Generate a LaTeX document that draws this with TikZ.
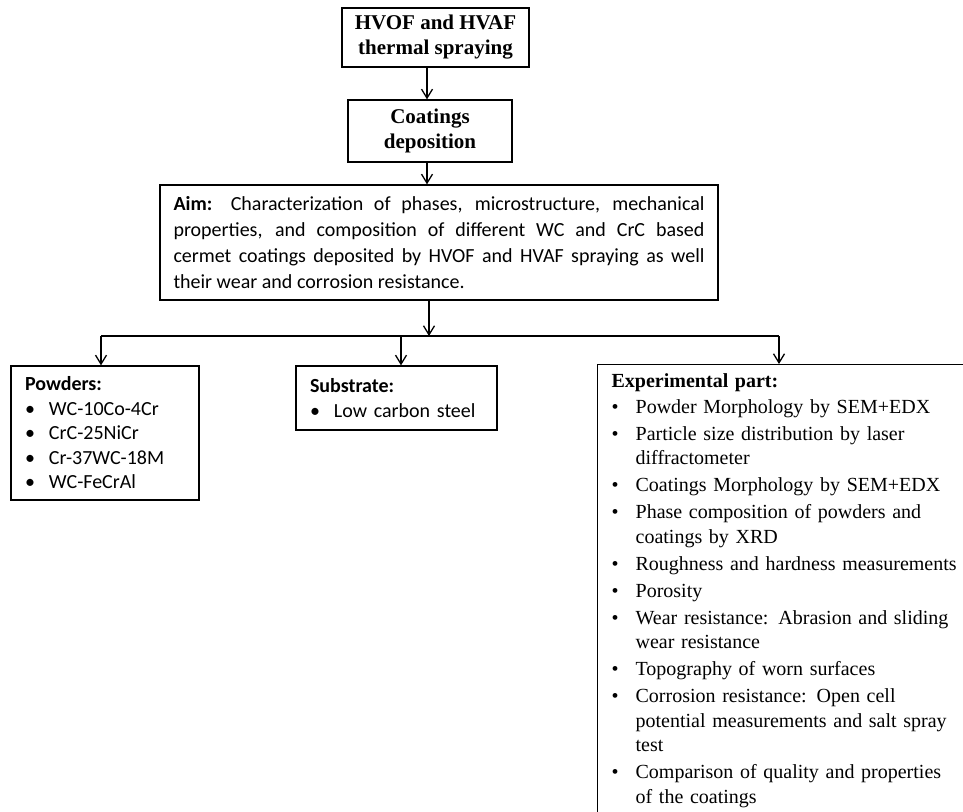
\documentclass[tikz,border=0pt]{standalone}
\usepackage{fontspec}
\setmainfont{Liberation Serif}
\newfontfamily\calibri{Carlito}
\usetikzlibrary{arrows.meta, positioning}

\newcommand{\bul}{\makebox[24pt][l]{\textbullet}}
\newcommand{\ind}{\hspace*{24pt}}

\begin{document}
\begin{tikzpicture}[
  x=1pt, y=-1pt,
  line width=1.3pt,
  stage/.style={draw, align=center, inner sep=0pt,
                font=\fontsize{21}{25}\selectfont\bfseries},
  info/.style={draw, align=left, inner xsep=14pt, inner ysep=0pt,
               font=\calibri\fontsize{20}{24.5}\selectfont},
  >={Straight Barb[length=9pt,width=11pt]}
]
\useasboundingbox (0,0) rectangle (963,811);
\clip (0,0) rectangle (963,811);

\node[stage, minimum width=187pt, minimum height=59pt] (spray) at (435.5,37.5)
  {HVOF and HVAF\\thermal spraying};
\node[stage, minimum width=164pt, minimum height=62pt] (depo) at (430,131)
  {Coatings\\deposition};

\node[info, align=justify, text width=531pt, inner xsep=13.5pt, minimum height=115pt,
      font=\calibri\fontsize{20}{26}\selectfont] (aim) at (439,242.5) {%
  \textbf{Aim:} Characterization of phases, microstructure, mechanical\linebreak
  properties, and composition of different WC and CrC based\linebreak
  cermet coatings deposited by HVOF and HVAF spraying as well\linebreak
  their wear and corrosion resistance.
};

\node[info, text width=160pt, minimum height=134pt] (pow) at (105,433) {%
  \textbf{Powders:}\\
  \bul WC-10Co-4Cr\\
  \bul CrC-25NiCr\\
  \bul Cr-37WC-18M\\
  \bul WC-FeCrAl
};

\node[info, text width=173pt, minimum height=64pt] (sub) at (396.5,398) {%
  \textbf{Substrate:}\\
  \bul Low carbon steel
};

\node[info, font=\fontsize{20}{24.5}\selectfont, text width=380pt,
      anchor=north west, inner ysep=9pt] (exp) at (597,364) {%
  \textbf{Experimental part:}\\[1pt]
  \bul Powder Morphology by SEM+EDX\\[2.5pt]
  \bul Particle size distribution by laser\\
  \ind diffractometer\\[2.5pt]
  \bul Coatings Morphology by SEM+EDX\\[2.5pt]
  \bul Phase composition of powders and\\
  \ind coatings by XRD\\[2.5pt]
  \bul Roughness and hardness measurements\\[2.5pt]
  \bul Porosity\\[2.5pt]
  \bul Wear resistance: Abrasion and sliding\\
  \ind wear resistance\\[2.5pt]
  \bul Topography of worn surfaces\\[2.5pt]
  \bul Corrosion resistance: Open cell\\
  \ind potential measurements and salt spray\\
  \ind test\\[2.5pt]
  \bul Comparison of quality and properties\\
  \ind of the coatings
};

% connectors
\coordinate (spine) at (427,0);
\coordinate (split) at (429,336);
\coordinate (busL) at (101,336);
\coordinate (busM) at (401,336);
\coordinate (busR) at (779,336);

\draw[->] (spray.south -| spine) -- (depo.north -| spine);
\draw[->] (depo.south -| spine) -- (aim.north -| spine);
\draw[->] (aim.south -| split) -- (split);
\draw (busL) -- (busR);
\draw[->] (busL) -- (busL |- pow.north);
\draw[->] (busM) -- (busM |- sub.north);
\draw[->] (busR) -- (busR |- exp.north);

\end{tikzpicture}
\end{document}
